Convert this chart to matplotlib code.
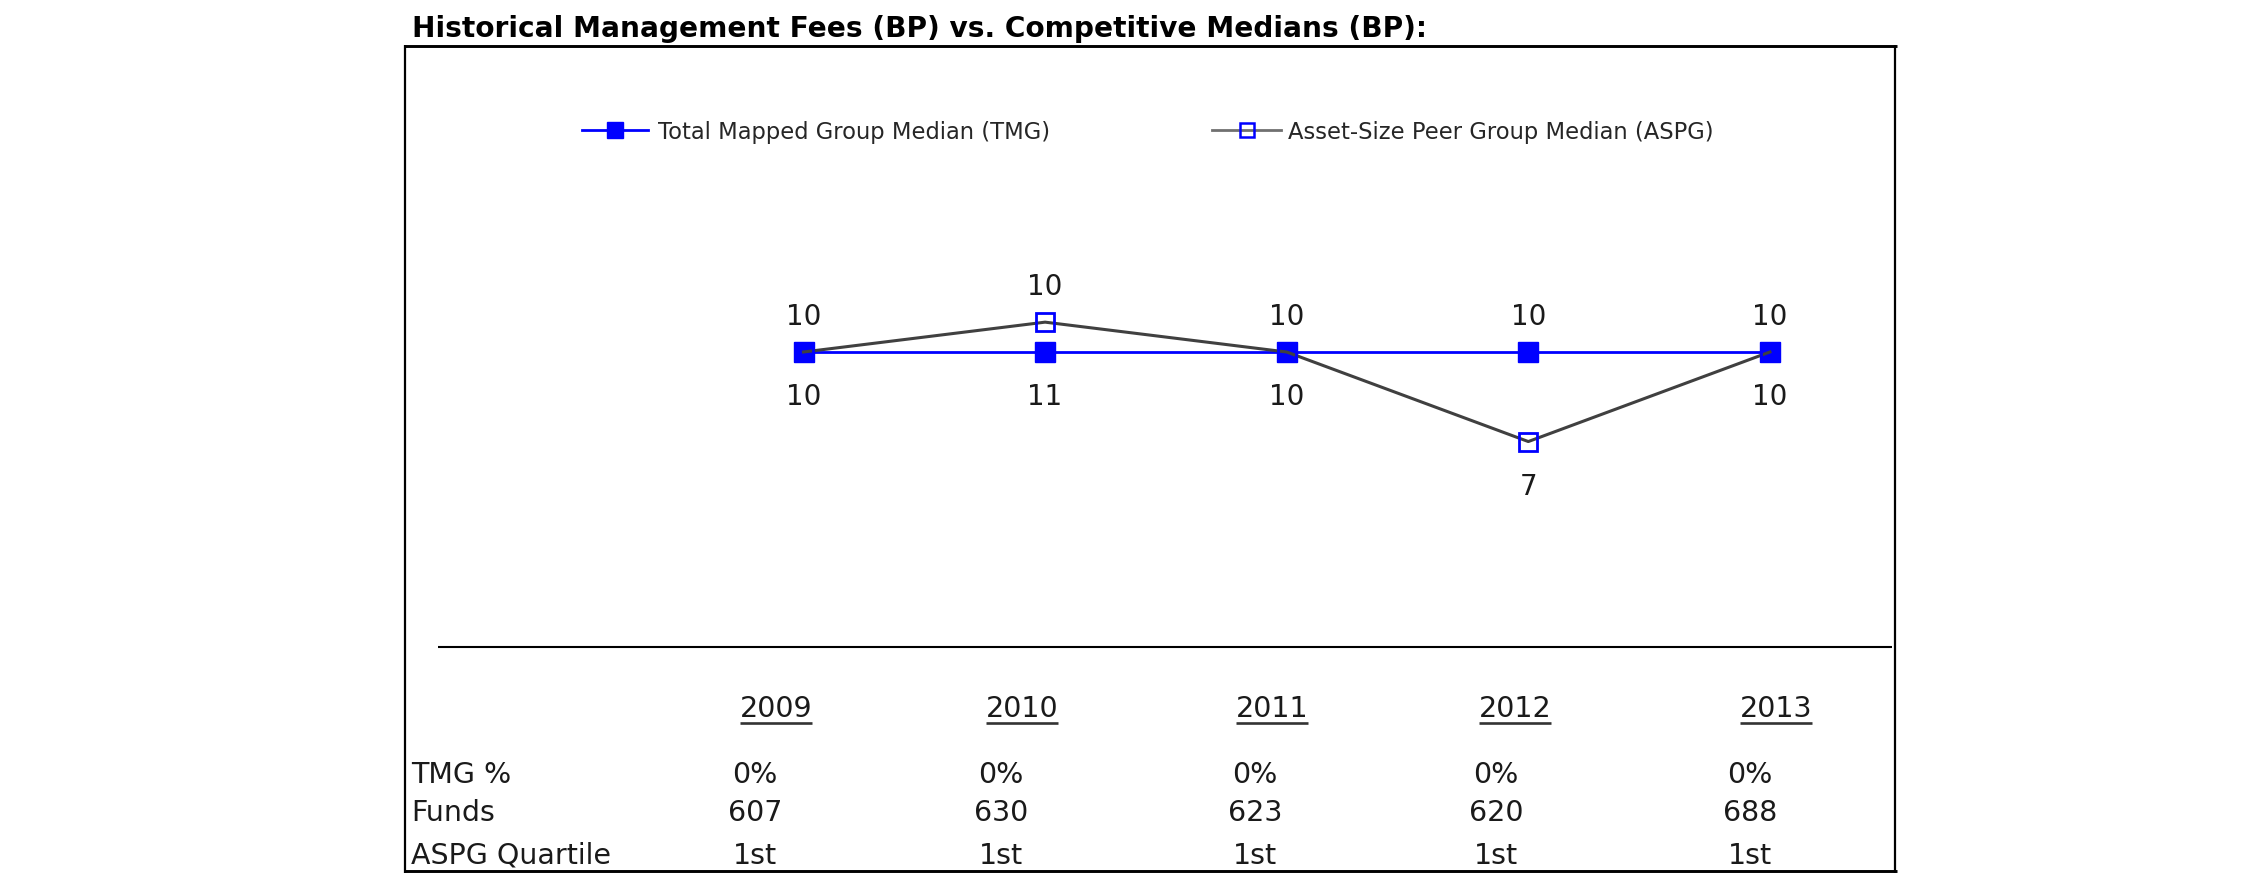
import matplotlib
matplotlib.use("Agg")
import matplotlib.pyplot as plt
from matplotlib.lines import Line2D

# ---------------- data ----------------
years = ["2009", "2010", "2011", "2012", "2013"]
tmg_median = [10, 10, 10, 10, 10]
aspg_median = [10, 11, 10, 7, 10]
tmg_pct = ["0%", "0%", "0%", "0%", "0%"]
funds = ["607", "630", "623", "620", "688"]
aspg_quartile = ["1st", "1st", "1st", "1st", "1st"]
row_labels = ["TMG %", "Funds", "ASPG Quartile"]
title = "Historical Management Fees (BP) vs. Competitive Medians (BP):"
legend_tmg = "Total Mapped Group Median (TMG)"
legend_aspg = "Asset-Size Peer Group Median (ASPG)"

# ---------------- layout helpers ----------------
W, H = 2250, 895
plt.rcParams["font.family"] = ["DejaVu Sans"]
fig = plt.figure(figsize=(W / 100, H / 100), dpi=100)
fig.patch.set_facecolor("white")


def fx(px):
    return px / W


def fy(py):
    return 1 - py / H


def hline(x0, x1, y, lw, color="black"):
    fig.add_artist(Line2D([fx(x0), fx(x1)], [fy(y), fy(y)], transform=fig.transFigure,
                          color=color, lw=lw, solid_capstyle="butt"))


def vline(x, y0, y1, lw, color="black"):
    fig.add_artist(Line2D([fx(x), fx(x)], [fy(y0), fy(y1)], transform=fig.transFigure,
                          color=color, lw=lw, solid_capstyle="butt"))


BLUE = "#0000ff"
GREY = "#404040"
TXT = "#1a1a1a"

# frame
hline(404, 1897, 47, 2.1)
hline(404, 1897, 872, 2.1)
vline(405, 46, 874, 1.6)
vline(1895, 46, 874, 1.6)
hline(438, 1892, 648, 1.5)

# title
fig.text(fx(412), fy(37), title, fontsize=20.2, fontweight="bold", color="black",
         ha="left", va="baseline")

# ---------------- chart axes ----------------
step = 241.6
x0px = 803.5
unit = 29.85
y10 = 353.0
ymin, ymax = 5, 13
ax_left = x0px - 0.5 * step
ax_w = 5 * step
ax_bottom_px = y10 + (10 - ymin) * unit
ax_h = (ymax - ymin) * unit
ax = fig.add_axes([fx(ax_left), fy(ax_bottom_px), fx(ax_w), ax_h / H])
ax.set_xlim(-0.5, 4.5)
ax.set_ylim(ymin, ymax)
ax.axis("off")

xs = list(range(len(years)))
ax.plot(xs, tmg_median, color=BLUE, lw=2.0, marker="s", ms=14.5, mfc=BLUE, mec=BLUE,
        zorder=3, clip_on=False)
ax.plot(xs, aspg_median, color=GREY, lw=2.2, marker="s", ms=13.5, mfc="none", mec=BLUE,
        mew=2.0, zorder=4, clip_on=False)

for i in xs:
    top = max(tmg_median[i], aspg_median[i])
    bot = min(tmg_median[i], aspg_median[i])
    ax.annotate(str(tmg_median[i]), xy=(i, top), xytext=(0, 28), textcoords="offset pixels",
                ha="center", va="baseline", fontsize=20, color=TXT)
    ax.annotate(str(aspg_median[i]), xy=(i, bot), xytext=(0, -52), textcoords="offset pixels",
                ha="center", va="baseline", fontsize=20, color=TXT)

# ---------------- legends ----------------
h_tmg = Line2D([], [], color=BLUE, lw=2.0, marker="s", ms=11.5, mfc=BLUE, mec=BLUE)
h_aspg = Line2D([], [], color="#707070", lw=2.0, marker="s", ms=10.5, mfc="none", mec=BLUE, mew=1.8)
leg1 = fig.legend([h_tmg], [legend_tmg], loc="center left", bbox_to_anchor=(fx(582), fy(132.5)),
                  frameon=False, fontsize=16.3, handlelength=2.9, handletextpad=0.45,
                  borderpad=0, borderaxespad=0, labelcolor="#262626")
leg2 = fig.legend([h_aspg], [legend_aspg], loc="center left", bbox_to_anchor=(fx(1212), fy(132.5)),
                  frameon=False, fontsize=16.3, handlelength=3.05, handletextpad=0.3,
                  borderpad=0, borderaxespad=0, labelcolor="#262626")

# ---------------- table ----------------
year_cx = [776, 1022, 1272, 1515, 1776]
val_cx = [755, 1001, 1255, 1496, 1750]
year_base = 717
row_base = [783, 821, 864]
label_x = 411
tfs = 20.5

year_texts = []
for cx, yr in zip(year_cx, years):
    t = fig.text(fx(cx), fy(year_base), yr, fontsize=tfs, color=TXT, ha="center", va="baseline")
    year_texts.append(t)

rows = [tmg_pct, funds, aspg_quartile]
for lab, base, vals in zip(row_labels, row_base, rows):
    fig.text(fx(label_x), fy(base), lab, fontsize=tfs, color=TXT, ha="left", va="baseline")
    for cx, v in zip(val_cx, vals):
        fig.text(fx(cx), fy(base), v, fontsize=tfs, color=TXT, ha="center", va="baseline")

# underline years
fig.canvas.draw()
renderer = fig.canvas.get_renderer()
for t in year_texts:
    bb = t.get_window_extent(renderer)
    fig.add_artist(Line2D([bb.x0 / W, bb.x1 / W], [fy(723.5), fy(723.5)],
                          transform=fig.transFigure, color="#333333", lw=1.9,
                          solid_capstyle="butt"))

fig.savefig("out.png", dpi=100, facecolor="white")
